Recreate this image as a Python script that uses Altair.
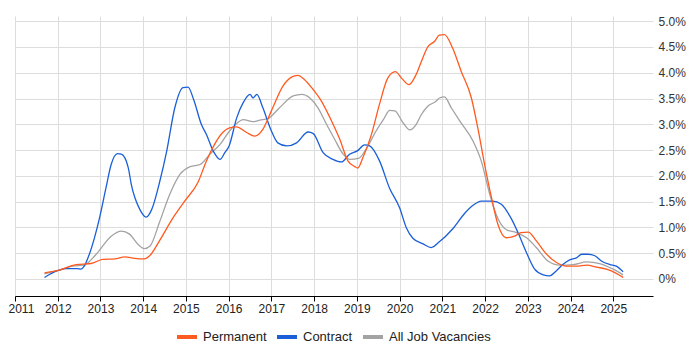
import altair as alt
import pandas as pd

series_names = ["Permanent", "Contract", "All Job Vacancies"]
series_colors = ["#FF5A1F", "#1A5FD8", "#A3A3A3"]

perm_x = [2011.69, 2011.99, 2012.43, 2012.78, 2013.05, 2013.34, 2013.57, 2013.80, 2014.03, 2014.15,
          2014.38, 2014.70, 2014.97, 2015.28, 2015.48, 2015.67, 2015.86, 2016.02, 2016.18, 2016.42,
          2016.61, 2016.80, 2017.00, 2017.27, 2017.46, 2017.62, 2017.77, 2017.97, 2018.17, 2018.41,
          2018.60, 2018.79, 2018.95, 2019.02, 2019.14, 2019.34, 2019.53, 2019.72, 2019.90, 2020.04,
          2020.22, 2020.39, 2020.51, 2020.66, 2020.82, 2020.93, 2021.05, 2021.24, 2021.44, 2021.68,
          2021.83, 2021.99, 2022.15, 2022.30, 2022.49, 2022.69, 2022.84, 2023.01, 2023.20, 2023.43,
          2023.67, 2023.90, 2024.14, 2024.38, 2024.61, 2024.84, 2025.07, 2025.23]
perm_y = [0.12, 0.16, 0.28, 0.30, 0.38, 0.39, 0.43, 0.40, 0.39, 0.45,
          0.74, 1.19, 1.51, 1.87, 2.29, 2.61, 2.84, 2.93, 2.95, 2.84,
          2.77, 2.90, 3.26, 3.74, 3.91, 3.95, 3.87, 3.68, 3.45, 3.06,
          2.71, 2.29, 2.18, 2.15, 2.35, 2.80, 3.39, 3.89, 4.02, 3.90,
          3.77, 3.97, 4.22, 4.50, 4.61, 4.73, 4.74, 4.48, 4.03, 3.51,
          2.93, 2.22, 1.58, 1.06, 0.80, 0.83, 0.90, 0.91, 0.74, 0.49,
          0.32, 0.25, 0.25, 0.27, 0.23, 0.19, 0.11, 0.03]

con_x = [2011.69, 2011.99, 2012.19, 2012.46, 2012.54, 2012.62, 2012.74, 2012.98, 2013.13, 2013.25,
         2013.40, 2013.49, 2013.65, 2013.72, 2013.92, 2014.07, 2014.20, 2014.39, 2014.55, 2014.74,
         2014.93, 2015.05, 2015.18, 2015.36, 2015.48, 2015.64, 2015.80, 2015.91, 2016.01, 2016.19,
         2016.34, 2016.50, 2016.57, 2016.66, 2016.80, 2017.00, 2017.15, 2017.36, 2017.59, 2017.86,
         2017.98, 2018.21, 2018.44, 2018.64, 2018.83, 2019.02, 2019.18, 2019.30, 2019.53, 2019.76,
         2020.00, 2020.16, 2020.31, 2020.55, 2020.74, 2020.93, 2021.24, 2021.53, 2021.72, 2021.91,
         2022.18, 2022.38, 2022.62, 2022.77, 2022.97, 2023.16, 2023.36, 2023.51, 2023.67, 2023.82,
         2023.98, 2024.14, 2024.26, 2024.41, 2024.57, 2024.72, 2024.92, 2025.07, 2025.23]
con_y = [0.03, 0.16, 0.20, 0.20, 0.19, 0.25, 0.48, 1.19, 1.77, 2.22,
         2.43, 2.42, 2.16, 1.84, 1.35, 1.20, 1.35, 1.90, 2.48, 3.32,
         3.71, 3.72, 3.48, 3.00, 2.80, 2.48, 2.32, 2.45, 2.58, 3.13,
         3.42, 3.58, 3.51, 3.58, 3.32, 2.87, 2.64, 2.58, 2.64, 2.85,
         2.82, 2.45, 2.32, 2.27, 2.42, 2.49, 2.60, 2.58, 2.29, 1.77,
         1.38, 0.99, 0.79, 0.68, 0.61, 0.72, 0.97, 1.28, 1.43, 1.51,
         1.51, 1.45, 1.16, 0.90, 0.51, 0.19, 0.08, 0.06, 0.16, 0.28,
         0.37, 0.41, 0.48, 0.48, 0.45, 0.35, 0.28, 0.25, 0.14]

all_x = [2011.69, 2011.99, 2012.35, 2012.62, 2012.90, 2013.25, 2013.49, 2013.68, 2013.88, 2014.03,
         2014.16, 2014.39, 2014.62, 2014.86, 2015.10, 2015.33, 2015.56, 2015.80, 2016.02, 2016.18,
         2016.34, 2016.57, 2016.73, 2016.92, 2017.19, 2017.51, 2017.71, 2017.90, 2018.09, 2018.29,
         2018.48, 2018.68, 2018.83, 2019.04, 2019.23, 2019.45, 2019.62, 2019.77, 2019.89, 2020.08,
         2020.24, 2020.39, 2020.51, 2020.66, 2020.86, 2020.93, 2021.05, 2021.21, 2021.41, 2021.72,
         2021.91, 2022.11, 2022.26, 2022.49, 2022.73, 2022.97, 2023.20, 2023.47, 2023.75, 2024.06,
         2024.38, 2024.68, 2025.00, 2025.23]
all_y = [0.10, 0.16, 0.25, 0.27, 0.48, 0.83, 0.93, 0.87, 0.67, 0.59,
         0.64, 1.12, 1.64, 2.03, 2.18, 2.22, 2.42, 2.61, 2.87, 3.01,
         3.09, 3.05, 3.08, 3.11, 3.32, 3.55, 3.58, 3.51, 3.32, 3.00,
         2.71, 2.42, 2.32, 2.34, 2.54, 2.87, 3.09, 3.27, 3.26, 3.03,
         2.89, 3.00, 3.19, 3.35, 3.45, 3.51, 3.53, 3.32, 3.06, 2.67,
         2.29, 1.64, 1.25, 0.96, 0.90, 0.80, 0.61, 0.35, 0.27, 0.28,
         0.33, 0.30, 0.19, 0.08]

year_ticks = list(range(2011, 2026))
pct_ticks = [0, 0.5, 1.0, 1.5, 2.0, 2.5, 3.0, 3.5, 4.0, 4.5, 5.0]

rows = []
for name, xs, ys in [("All Job Vacancies", all_x, all_y),
                     ("Contract", con_x, con_y),
                     ("Permanent", perm_x, perm_y)]:
    for x, y in zip(xs, ys):
        rows.append({"year": x, "pct": y, "series": name})
df = pd.DataFrame(rows)

FONT = "Liberation Sans"

chart = alt.Chart(df).mark_line(strokeWidth=1.3, interpolate="monotone").encode(
    x=alt.X("year:Q",
            scale=alt.Scale(domain=[2011, 2025.93], nice=False, zero=False),
            axis=alt.Axis(values=year_ticks, format="d", title=None, grid=True,
                          gridColor="#dddddd", domainColor="#000000", domainWidth=1.2,
                          tickColor="#000000", tickSize=5, labelPadding=2,
                          labelFlush=True, labelFlushOffset=7,
                          labelFont=FONT, labelFontSize=12, labelColor="#222222")),
    y=alt.Y("pct:Q",
            scale=alt.Scale(domain=[-0.33, 5.1], nice=False, zero=False),
            axis=alt.Axis(orient="right", values=pct_ticks, title=None, domain=False,
                          ticks=False, labelPadding=5, gridColor="#dddddd",
                          labelExpr="datum.value == 0 ? '0%' : format(datum.value, '.1f') + '%'",
                          labelFont=FONT, labelFontSize=12, labelColor="#333333")),
    color=alt.Color("series:N",
                    scale=alt.Scale(domain=series_names, range=series_colors),
                    legend=alt.Legend(title=None, orient="none", legendX=160, legendY=309,
                                      direction="horizontal", symbolType="stroke",
                                      symbolStrokeWidth=4, symbolSize=400,
                                      labelFont=FONT, labelFontSize=13, labelColor="#222222",
                                      columnPadding=2, labelOffset=4)),
).properties(
    width=638, height=280,
    padding={"left": 0, "top": 7, "right": 5, "bottom": 5},
).configure_view(stroke=None)

chart.save("out.html", embed_options={"renderer": "svg", "actions": False})
